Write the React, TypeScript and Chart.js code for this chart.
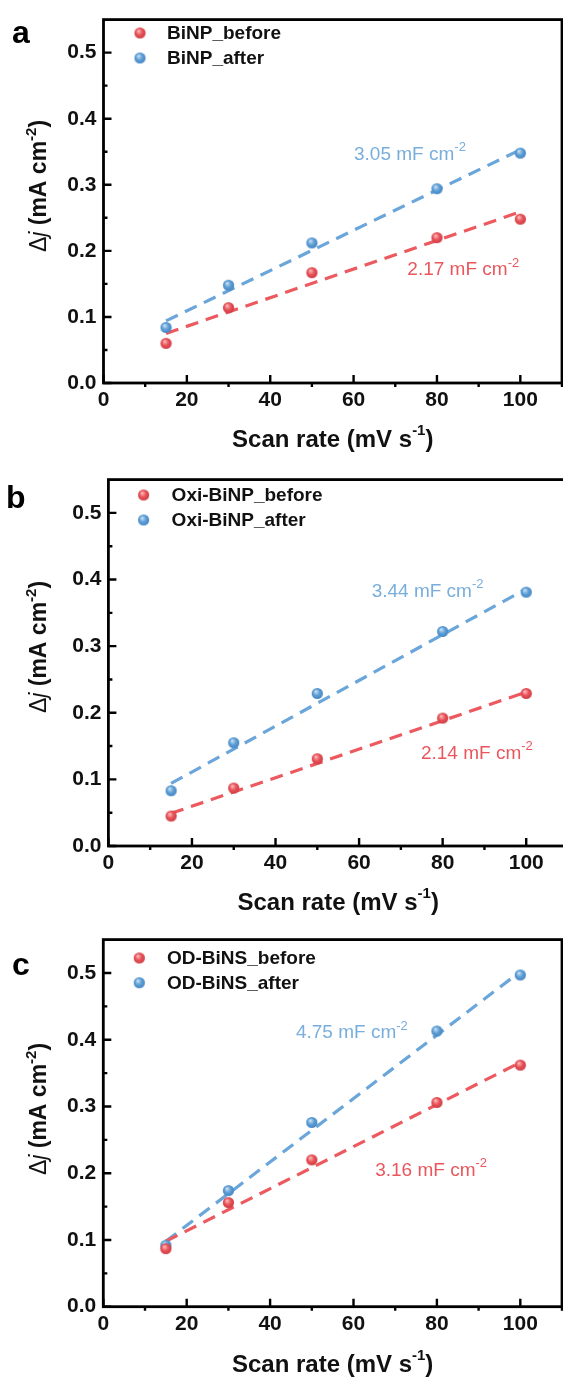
import React, { useEffect, useRef } from "react";
import { Chart, registerables } from "chart.js";

Chart.register(...registerables);

// ---------- data ----------
const SCAN_RATES = [15, 30, 50, 80, 100];
const FIT_RANGE = [15, 100];
const X_TICKS = [0, 20, 40, 60, 80, 100];
const X_MINOR = [10, 30, 50, 70, 90, 110];
const Y_TICKS = [0, 0.1, 0.2, 0.3, 0.4, 0.5];
const Y_MINOR = [0.05, 0.15, 0.25, 0.35, 0.45];

const A_LABELS = ["BiNP_before", "BiNP_after"];
const A_BEFORE = [0.06, 0.114, 0.167, 0.22, 0.248];
const A_AFTER = [0.084, 0.148, 0.212, 0.294, 0.348];
const A_BEFORE_FIT = [0.075, 0.259];
const A_AFTER_FIT = [0.094, 0.353];
const A_CDL = ["2.17 mF cm", "3.05 mF cm"];

const B_LABELS = ["Oxi-BiNP_before", "Oxi-BiNP_after"];
const B_BEFORE = [0.045, 0.087, 0.131, 0.192, 0.229];
const B_AFTER = [0.083, 0.155, 0.229, 0.322, 0.381];
const B_BEFORE_FIT = [0.049, 0.231];
const B_AFTER_FIT = [0.094, 0.386];
const B_CDL = ["2.14 mF cm", "3.44 mF cm"];

const C_LABELS = ["OD-BiNS_before", "OD-BiNS_after"];
const C_BEFORE = [0.087, 0.156, 0.22, 0.306, 0.362];
const C_AFTER = [0.092, 0.174, 0.276, 0.413, 0.497];
const C_BEFORE_FIT = [0.098, 0.366];
const C_AFTER_FIT = [0.098, 0.502];
const C_CDL = ["3.16 mF cm", "4.75 mF cm"];

const PANEL_LETTERS = ["a", "b", "c"];

// ---------- style / layout ----------
const FONT = "'Liberation Sans', Arial, sans-serif";
const RED = "#E9545B";
const BLUE = "#5E9FD6";
const RED_LINE = "#EC5A60";
const BLUE_LINE = "#6AA6DA";
const RED_TEXT = "#E9575D";
const BLUE_TEXT = "#78AEDC";
const W = 575;
const H = 460;

type Layout = {
  top: number; left: number; right: number; plotTop: number; plotBottom: number;
  letter: { x: number; y: number };
  legend: { dotX: number; y1: number; y2: number; textX: number };
  notes: { x: number; y: number }[]; // before, after (data coords)
  yTitle: { x: number; y: number };
  xTitleY: number;
};

const PANELS = [
  {
    labels: A_LABELS, before: A_BEFORE, after: A_AFTER, beforeFit: A_BEFORE_FIT, afterFit: A_AFTER_FIT, cdl: A_CDL,
    layout: {
      top: 0, left: 103.5, right: 562, plotTop: 15.5, plotBottom: 383,
      letter: { x: 12, y: 43 },
      legend: { dotX: 140, y1: 33, y2: 58, textX: 167 },
      notes: [{ x: 72.9, y: 0.171 }, { x: 60.1, y: 0.346 }],
      yTitle: { x: 40, y: 186 },
      xTitleY: 440,
    } as Layout,
  },
  {
    labels: B_LABELS, before: B_BEFORE, after: B_AFTER, beforeFit: B_BEFORE_FIT, afterFit: B_AFTER_FIT, cdl: B_CDL,
    layout: {
      top: 460, left: 108.4, right: 568, plotTop: 17, plotBottom: 386,
      letter: { x: 6, y: 48 },
      legend: { dotX: 143.6, y1: 35, y2: 60, textX: 171.6 },
      notes: [{ x: 74.8, y: 0.139 }, { x: 63.0, y: 0.382 }],
      yTitle: { x: 40, y: 187 },
      xTitleY: 443,
    } as Layout,
  },
  {
    labels: C_LABELS, before: C_BEFORE, after: C_AFTER, beforeFit: C_BEFORE_FIT, afterFit: C_AFTER_FIT, cdl: C_CDL,
    layout: {
      top: 920, left: 103.3, right: 562, plotTop: 19.3, plotBottom: 386.7,
      letter: { x: 12, y: 55 },
      legend: { dotX: 139.3, y1: 38, y2: 62.7, textX: 167 },
      notes: [{ x: 65.2, y: 0.204 }, { x: 46.2, y: 0.41 }],
      yTitle: { x: 40, y: 189 },
      xTitleY: 445,
    } as Layout,
  },
];

function makeSphere(color: string, hi: string, dark: string): HTMLCanvasElement {
  const c = document.createElement("canvas");
  c.width = 13; c.height = 13;
  const g = c.getContext("2d")!;
  const grad = g.createRadialGradient(5, 4.5, 0.5, 6.5, 6.5, 6.5);
  grad.addColorStop(0, hi);
  grad.addColorStop(0.45, color);
  grad.addColorStop(1, dark);
  g.fillStyle = grad;
  g.beginPath();
  g.arc(6.5, 6.5, 5.6, 0, Math.PI * 2);
  g.fill();
  return c;
}

type Seg = { t: string; font: string; sup?: boolean };
function segWidth(ctx: CanvasRenderingContext2D, segs: Seg[]) {
  let w = 0;
  for (const s of segs) { ctx.font = s.font; w += ctx.measureText(s.t).width; }
  return w;
}
function drawSegs(ctx: CanvasRenderingContext2D, segs: Seg[], x: number, y: number, supRise: number) {
  let cx = x;
  for (const s of segs) {
    ctx.font = s.font;
    ctx.fillText(s.t, cx, s.sup ? y - supRise : y);
    cx += ctx.measureText(s.t).width;
  }
}

const decorPlugin = {
  id: "decor",
  afterDraw(chart: any, _args: any, opts: any) {
    const { ctx, chartArea: ca, scales } = chart;
    const xs = scales.x, ys = scales.y;
    const p = opts.panel;
    const L: Layout = p.layout;
    ctx.save();
    // frame
    ctx.strokeStyle = "#000";
    ctx.lineWidth = 2.8;
    ctx.strokeRect(ca.left, ca.top, ca.right - ca.left, ca.bottom - ca.top);
    // ticks
    ctx.lineWidth = 2.4;
    ctx.beginPath();
    for (const v of X_TICKS) { const px = xs.getPixelForValue(v); ctx.moveTo(px, ca.bottom); ctx.lineTo(px, ca.bottom - 8); }
    for (const v of X_MINOR) { const px = xs.getPixelForValue(v); ctx.moveTo(px, ca.bottom); ctx.lineTo(px, ca.bottom + 4); }
    for (const v of Y_TICKS) { const py = ys.getPixelForValue(v); ctx.moveTo(ca.left, py); ctx.lineTo(ca.left + 8, py); }
    for (const v of Y_MINOR) { const py = ys.getPixelForValue(v); ctx.moveTo(ca.left, py); ctx.lineTo(ca.left + 4, py); }
    ctx.stroke();

    // legend
    ctx.textBaseline = "middle";
    ctx.textAlign = "left";
    ctx.fillStyle = "#111";
    ctx.font = `bold 19px ${FONT}`;
    const spheres = [opts.redSphere, opts.blueSphere];
    [L.legend.y1, L.legend.y2].forEach((yy, i) => {
      ctx.drawImage(spheres[i], L.legend.dotX - 6.5, yy - 6.5);
      ctx.fillText(p.labels[i], L.legend.textX, yy + 1);
    });

    // slope notes
    const noteColors = [RED_TEXT, BLUE_TEXT];
    L.notes.forEach((n, i) => {
      ctx.fillStyle = noteColors[i];
      const x = xs.getPixelForValue(n.x);
      const y = ys.getPixelForValue(n.y);
      ctx.textBaseline = "middle";
      drawSegs(ctx, [
        { t: p.cdl[i], font: `19px ${FONT}` },
        { t: "-2", font: `13px ${FONT}`, sup: true },
      ], x, y, 7);
    });

    // panel letter
    ctx.fillStyle = "#000";
    ctx.textBaseline = "alphabetic";
    ctx.font = `bold 32px ${FONT}`;
    ctx.fillText(PANEL_LETTERS[opts.index], L.letter.x, L.letter.y);

    // x title
    ctx.fillStyle = "#111";
    ctx.textBaseline = "middle";
    const xt: Seg[] = [
      { t: "Scan rate (mV s", font: `bold 24px ${FONT}` },
      { t: "-1", font: `bold 15px ${FONT}`, sup: true },
      { t: ")", font: `bold 24px ${FONT}` },
    ];
    const xw = segWidth(ctx, xt);
    drawSegs(ctx, xt, (ca.left + ca.right) / 2 - xw / 2, L.xTitleY, 9);

    // y title
    const yt: Seg[] = [
      { t: "\u0394", font: `23px ${FONT}` },
      { t: "j", font: `italic 23px ${FONT}` },
      { t: " (mA cm", font: `bold 23px ${FONT}` },
      { t: "-2", font: `bold 15px ${FONT}`, sup: true },
      { t: ")", font: `bold 23px ${FONT}` },
    ];
    const yw = segWidth(ctx, yt);
    ctx.translate(L.yTitle.x, L.yTitle.y);
    ctx.rotate(-Math.PI / 2);
    drawSegs(ctx, yt, -yw / 2, 0, 8);
    ctx.restore();
  },
};

function Panel({ index }: { index: number }) {
  const ref = useRef<HTMLCanvasElement>(null);
  const p = PANELS[index];
  const L = p.layout;
  useEffect(() => {
    const canvas = ref.current!;
    const redSphere = makeSphere(RED, "#FBB5B7", "#C8343B");
    const blueSphere = makeSphere(BLUE, "#C4DDF3", "#3F7FBE");
    const pts = (arr: number[]) => SCAN_RATES.map((x, i) => ({ x, y: arr[i] }));
    const fit = (arr: number[]) => FIT_RANGE.map((x, i) => ({ x, y: arr[i] }));
    const chart = new Chart(canvas, {
      type: "scatter",
      data: {
        datasets: [
          { label: p.labels[0] + " fit", data: fit(p.beforeFit), showLine: true, borderColor: RED_LINE, borderWidth: 3.2, borderDash: [13, 8], pointRadius: 0, order: 2 } as any,
          { label: p.labels[1] + " fit", data: fit(p.afterFit), showLine: true, borderColor: BLUE_LINE, borderWidth: 3.2, borderDash: [13, 8], pointRadius: 0, order: 2 } as any,
          { label: p.labels[0], data: pts(p.before), pointStyle: redSphere, pointRadius: 6, order: 1 } as any,
          { label: p.labels[1], data: pts(p.after), pointStyle: blueSphere, pointRadius: 6, order: 1 } as any,
        ],
      },
      options: {
        animation: false,
        responsive: false,
        devicePixelRatio: 1,
        layout: { padding: { top: L.plotTop, right: W - L.right, left: 0, bottom: 0 } },
        plugins: {
          legend: { display: false },
          tooltip: { enabled: false },
          decor: { panel: p, index, redSphere, blueSphere },
        } as any,
        scales: {
          x: {
            type: "linear", min: 0, max: 110,
            grid: { display: false, drawTicks: false },
            border: { display: false },
            ticks: { font: { family: FONT, size: 21, weight: "bold" }, color: "#111", padding: 5, maxRotation: 0, callback: (v: any) => String(v) },
            afterBuildTicks: (s: any) => { s.ticks = X_TICKS.map((v) => ({ value: v })); },
            afterFit: (s: any) => { s.height = H - L.plotBottom; },
          },
          y: {
            type: "linear", min: 0, max: 0.55,
            grid: { display: false, drawTicks: false },
            border: { display: false },
            ticks: { font: { family: FONT, size: 21, weight: "bold" }, color: "#111", padding: 7, callback: (v: any) => Number(v).toFixed(1) },
            afterBuildTicks: (s: any) => { s.ticks = Y_TICKS.map((v) => ({ value: v })); },
            afterFit: (s: any) => { s.width = L.left; },
          },
        },
      } as any,
      plugins: [decorPlugin as any],
    });
    return () => chart.destroy();
  }, [index]);
  return (
    <canvas
      ref={ref}
      width={W}
      height={H}
      style={{ position: "absolute", left: 0, top: L.top, width: W, height: H, display: "block" }}
    />
  );
}

export default function App() {
  return (
    <div style={{ position: "absolute", left: 0, top: 0, width: 563, height: 1380, overflow: "hidden", background: "#fff" }}>
      {PANELS.map((_, i) => (
        <Panel key={i} index={i} />
      ))}
    </div>
  );
}
